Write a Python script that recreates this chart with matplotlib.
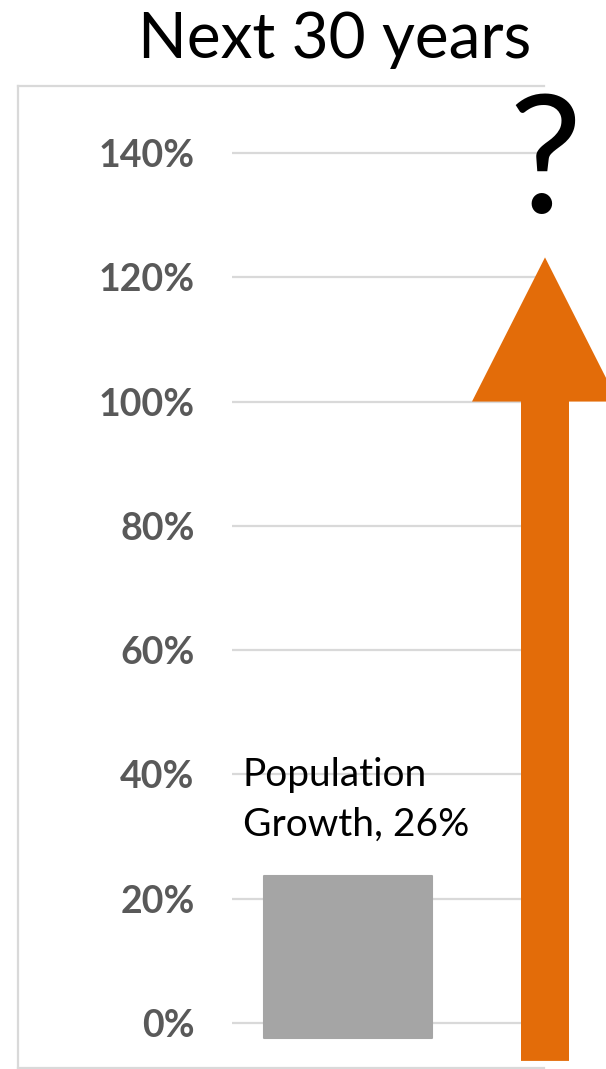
import matplotlib
matplotlib.use("Agg")
import matplotlib.pyplot as plt
from matplotlib.patches import Polygon
from matplotlib.lines import Line2D

# ---- data ----
categories = ["Population Growth"]
values = [26]
bar_offset = -2.4          # bar sits slightly below the 0% line in the reference
y_ticks = [0, 20, 40, 60, 80, 100, 120, 140]
y_tick_labels = [f"{v}%" for v in y_ticks]
title = "Next 30 years"
label_text = "Population\nGrowth, 26%"
arrow_tip, arrow_head_base, arrow_bottom = 123.2, 100.0, -6.1

W, H = 606, 1069
fig = plt.figure(figsize=(W / 100, H / 100), dpi=100)
fig.patch.set_facecolor("white")

FONT = "Lato"
ymin, ymax = -5, 150
ax_left, ax_right = 232, 544
# px per unit in y: 0 -> 1023, 140 -> 153
ppu = (1023 - 153) / 140
px_bottom = 1023 + 5 * ppu
px_top = 1023 - 150 * ppu
ax = fig.add_axes([ax_left / W, (H - px_bottom) / H,
                   (ax_right - ax_left) / W, (px_bottom - px_top) / H])
ax.set_ylim(ymin, ymax)
# x units: 1 unit = 280 px, bar centre at px 348
xu = 280.0
ax.set_xlim((ax_left - 348) / xu, (ax_right - 348) / xu)
ax.patch.set_alpha(0)

for s in ax.spines.values():
    s.set_visible(False)
ax.set_yticks(y_ticks)
ax.set_yticklabels(y_tick_labels, fontfamily=FONT, fontweight="bold",
                   fontsize=27, color="#595959")
ax.tick_params(axis="y", length=0, pad=27)
ax.set_xticks([])
ax.grid(axis="y", color="#D9D9D9", linewidth=1.6)
ax.set_axisbelow(True)

# bar
ax.bar([0], values, bottom=bar_offset, width=168 / xu, color="#A5A5A5",
       edgecolor="#A5A5A5", linewidth=1.5, joinstyle="round", zorder=2)

# data label (two lines, baselines placed individually)
lines = label_text.split("\n")
baselines = [(1023 - 786) / ppu, (1023 - 836) / ppu]
for txt, yb in zip(lines, baselines):
    ax.text((243 - 348) / xu, yb, txt, fontfamily=FONT, fontsize=28,
            color="black", ha="left", va="baseline", zorder=3)

# arrow
xc = (545 - 348) / xu
sw = 24 / xu
hw = 73 / xu
pts = [(xc - sw, arrow_bottom), (xc - sw, arrow_head_base),
       (xc - hw, arrow_head_base), (xc, arrow_tip),
       (xc + hw, arrow_head_base), (xc + sw, arrow_head_base),
       (xc + sw, arrow_bottom)]
ax.add_patch(Polygon(pts, closed=True, facecolor="#E36C09",
                     edgecolor="none", clip_on=False, zorder=4))

# question mark
ax.text(xc, 130.3, "?", fontfamily=FONT, fontsize=118, color="black",
        ha="center", va="baseline", clip_on=False, zorder=5)

# title
fig.text(335 / W, 1 - 58 / H, title, fontfamily=FONT, fontsize=46,
         color="black", ha="center", va="baseline")

# chart-area frame (left, top, bottom)
fc = "#D9D9D9"
for (x0, y0, x1, y1) in [(18, 86, 18, 1068), (18, 86, 544, 86), (18, 1068, 544, 1068)]:
    fig.add_artist(Line2D([x0 / W, x1 / W], [1 - y0 / H, 1 - y1 / H],
                          color=fc, linewidth=1.6, transform=fig.transFigure,
                          zorder=0))

fig.savefig("out.png", dpi=100)
